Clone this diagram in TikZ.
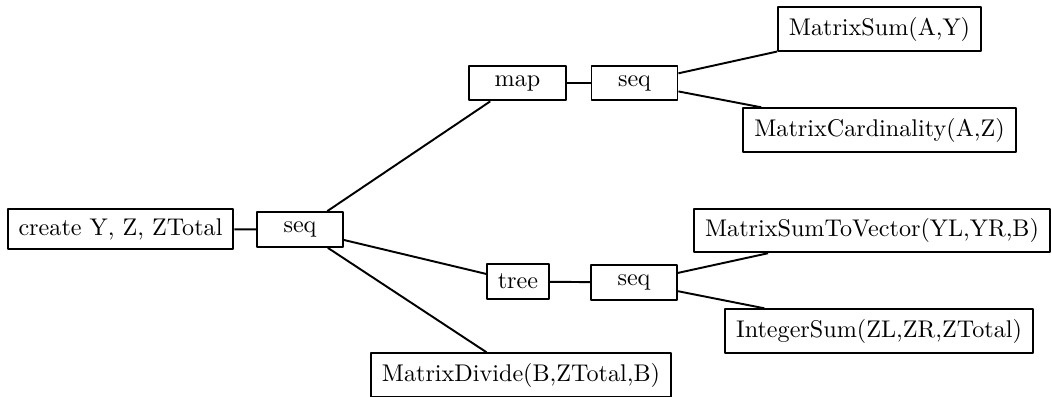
\documentclass[tikz,border=0pt]{standalone}
\begin{document}
\begin{tikzpicture}[x=0.4141pt,y=-0.4141pt,line join=round,
  box/.style={draw,line width=0.8pt,inner xsep=4.5pt,inner ysep=4pt},
  op/.style={box,minimum width=35.6pt},
  link/.style={line width=0.8pt}]
  \useasboundingbox (0,0) rectangle (1052,396);

  % Root and first sequence.
  \node[box] (create) at (120.5,229) {create Y, Z, ZTotal};
  \node[op] (seqA) at (300,229.5) {seq};

  % Upper branch: map.
  \node[op,minimum width=40pt] (map) at (517.5,83) {map};
  \node[op] (seqB) at (634.5,83) {seq};
  \node[box] (sumAY) at (879.5,29) {MatrixSum(A,Y)};
  \node[box] (cardAZ) at (879.5,130) {MatrixCardinality(A,Z)};

  % Middle branch: tree.
  \node[box] (tree) at (518,281.5) {tree};
  \node[op] (seqC) at (634,282.5) {seq};
  \node[box] (sumvec) at (872,230.5) {MatrixSumToVector(YL,YR,B)};
  \node[box] (intsum) at (879,331) {IntegerSum(ZL,ZR,ZTotal)};

  % Last step.
  \node[box] (divide) at (521,375) {MatrixDivide(B,ZTotal,B)};

  % Connectors.
  \draw[link] (create)--(seqA);
  \draw[link] (seqA)--(map);
  \draw[link] (seqA)--(tree);
  \draw[link] (seqA)--(divide);
  \draw[link] (map)--(seqB);
  \draw[link] (seqB)--(sumAY);
  \draw[link] (seqB)--(cardAZ);
  \draw[link] (tree)--(seqC);
  \draw[link] (seqC)--(sumvec);
  \draw[link] (seqC)--(intsum);
\end{tikzpicture}
\end{document}
